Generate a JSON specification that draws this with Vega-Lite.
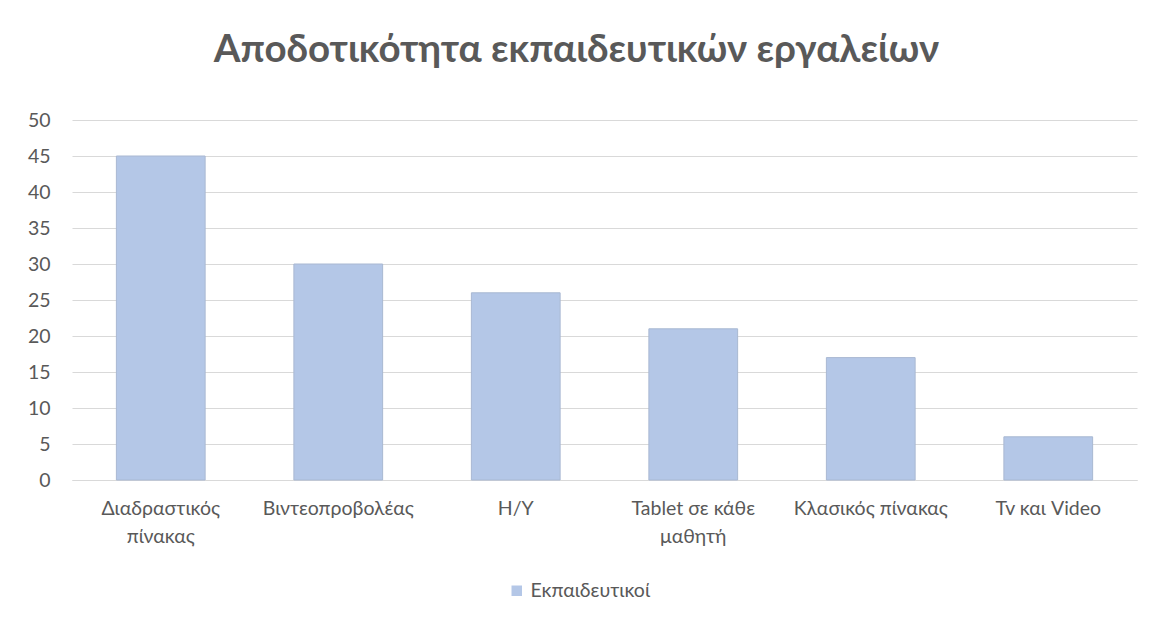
{
  "$schema": "https://vega.github.io/schema/vega-lite/v6.json",
  "width": 1065,
  "height": 360,
  "autosize": {"type": "none"},
  "padding": {"left": 72, "top": 120, "right": 16, "bottom": 139},
  "background": "white",
  "title": {
    "text": "Αποδοτικότητα εκπαιδευτικών εργαλείων",
    "font": "Lato",
    "fontSize": 38.5,
    "fontWeight": "bold",
    "color": "#595959",
    "anchor": "middle",
    "dx": -28,
    "offset": 40
  },
  "data": {
    "values": [
      {"tool": "Διαδραστικός πίνακας", "value": 45, "series": "Εκπαιδευτικοί"},
      {"tool": "Βιντεοπροβολέας", "value": 30, "series": "Εκπαιδευτικοί"},
      {"tool": "Η/Υ", "value": 26, "series": "Εκπαιδευτικοί"},
      {"tool": "Tablet σε κάθε μαθητή", "value": 21, "series": "Εκπαιδευτικοί"},
      {"tool": "Κλασικός πίνακας", "value": 17, "series": "Εκπαιδευτικοί"},
      {"tool": "Tv και Video", "value": 6, "series": "Εκπαιδευτικοί"}
    ]
  },
  "mark": {"type": "bar", "stroke": "#A9B8D2", "strokeWidth": 1},
  "encoding": {
    "x": {
      "field": "tool",
      "type": "nominal",
      "sort": null,
      "scale": {"paddingInner": 0.5, "paddingOuter": 0.25},
      "axis": {
        "title": null,
        "labelAngle": 0,
        "labelFont": "Lato",
        "labelFontSize": 19.5,
        "labelColor": "#595959",
        "labelPadding": 19,
        "labelLineHeight": 28,
        "labelLimit": 300,
        "ticks": false,
        "domainColor": "#D9D9D9",
        "domainWidth": 1,
        "labelExpr": "datum.value == 'Διαδραστικός πίνακας' ? ['Διαδραστικός', 'πίνακας'] : datum.value == 'Tablet σε κάθε μαθητή' ? ['Tablet σε κάθε', 'μαθητή'] : datum.value"
      }
    },
    "y": {
      "field": "value",
      "type": "quantitative",
      "scale": {"domain": [0, 50]},
      "axis": {
        "title": null,
        "values": [0, 5, 10, 15, 20, 25, 30, 35, 40, 45, 50],
        "labelFont": "Lato",
        "labelFontSize": 19.5,
        "labelColor": "#595959",
        "labelPadding": 22,
        "ticks": false,
        "domain": false,
        "gridColor": "#D9D9D9",
        "gridWidth": 1
      }
    },
    "color": {
      "field": "series",
      "type": "nominal",
      "scale": {"range": ["#B4C7E7"]},
      "legend": {
        "title": null,
        "orient": "none",
        "legendX": 435,
        "legendY": 461,
        "symbolType": "square",
        "symbolSize": 110,
        "symbolStrokeWidth": 0,
        "labelFont": "Lato",
        "labelFontSize": 19.5,
        "labelColor": "#595959",
        "labelOffset": 4
      }
    }
  },
  "config": {"view": {"stroke": null}}
}
